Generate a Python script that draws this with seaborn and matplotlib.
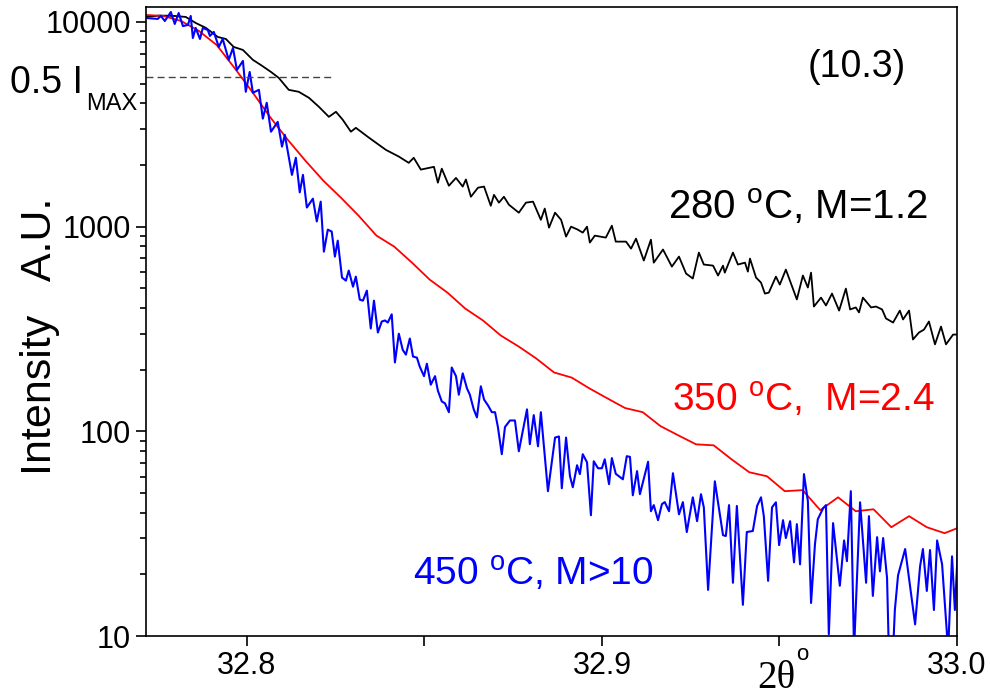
import numpy as np
import seaborn as sns
import matplotlib.pyplot as plt
from matplotlib.ticker import FixedLocator, LogLocator, FuncFormatter, NullFormatter

sns.set_theme(style="ticks")
plt.rcParams['font.family'] = ['Liberation Sans', 'DejaVu Sans']
plt.rcParams['mathtext.fontset'] = 'custom'
plt.rcParams['mathtext.rm'] = 'Liberation Sans'
plt.rcParams['mathtext.it'] = 'Liberation Sans:italic'

# 280 C sample (black)
black_x = [32.7716, 32.7755, 32.7797, 32.7828, 32.7856, 32.7885, 32.7918, 32.7941, 32.7963, 32.7989,
           32.8017, 32.8039, 32.8068, 32.8090, 32.8118, 32.8146, 32.8175, 32.8203, 32.8231, 32.8251,
           32.8270, 32.8293, 32.8307, 32.8344, 32.8392, 32.8428, 32.8456, 32.8470, 32.8490, 32.8527,
           32.8538, 32.8549, 32.8569, 32.8589, 32.8608, 32.8617, 32.8631, 32.8651, 32.8668, 32.8687,
           32.8696, 32.8710, 32.8724, 32.8738, 32.8766, 32.8786, 32.8806, 32.8828, 32.8839, 32.8851,
           32.8868, 32.8885, 32.8899, 32.8913, 32.8932, 32.8946, 32.8958, 32.8966, 32.8980, 32.9011,
           32.9028, 32.9039, 32.9068, 32.9082, 32.9096, 32.9118, 32.9138, 32.9146, 32.9172, 32.9197,
           32.9217, 32.9237, 32.9256, 32.9273, 32.9287, 32.9313, 32.9327, 32.9341, 32.9346, 32.9369,
           32.9383, 32.9403, 32.9411, 32.9417, 32.9434, 32.9448, 32.9459, 32.9470, 32.9490, 32.9501,
           32.9518, 32.9549, 32.9566, 32.9580, 32.9589, 32.9597, 32.9617, 32.9631, 32.9648, 32.9668,
           32.9687, 32.9699, 32.9715, 32.9724, 32.9735, 32.9758, 32.9772, 32.9789, 32.9800, 32.9820,
           32.9839, 32.9848, 32.9865, 32.9876, 32.9893, 32.9907, 32.9921, 32.9938, 32.9955, 32.9969,
           32.9989, 33.0000]
black_y = [10600, 10750, 10700, 10580, 9890, 9350, 8450, 8260, 7550, 7300,
           6530, 6170, 5700, 5330, 4660, 4560, 4260, 3850, 3440, 3640,
           3330, 2910, 3040, 2720, 2370, 2200, 2050, 2170, 1900, 1960,
           1640, 1920, 1585, 1730, 1570, 1700, 1400, 1550, 1570, 1265,
           1430, 1310, 1400, 1280, 1170, 1310, 1325, 1080, 1225, 989,
           1170, 1080, 894, 1000, 967, 935, 1000, 836, 904, 884,
           1011, 845, 845, 781, 874, 683, 864, 667, 773, 638,
           714, 590, 558, 747, 653, 645, 577, 645, 596, 747,
           653, 667, 603, 698, 564, 533, 471, 476, 570, 521,
           617, 441, 577, 504, 596, 407, 450, 412, 471, 389,
           498, 394, 403, 381, 450, 403, 407, 394, 356, 340,
           389, 352, 389, 281, 304, 314, 344, 266, 325, 266,
           297, 297]

# 350 C sample (red), step 0.005
red_start = 32.7715
red_step = 0.005
red_y = [10820, 10700, 10110, 9040, 7720, 5970, 4560, 3440, 2660, 2100,
         1680, 1385, 1130, 904, 799, 667, 551, 476, 398, 348,
         294, 260, 227, 194, 183, 162, 145, 130, 124, 106,
         95.6, 86.4, 85.4, 73.0, 63.1, 60.3, 51.0, 51.6, 41.2, 47.6,
         40.7, 41.6, 34.0, 38.5, 34.0, 31.8, 34.4]
red_x = red_start + red_step * np.arange(len(red_y))

# 450 C sample (blue)
blue_x = [32.7716, 32.7749, 32.7758, 32.7769, 32.7786, 32.7797, 32.7808, 32.7820, 32.7834, 32.7842,
          32.7848, 32.7856, 32.7868, 32.7876, 32.7890, 32.7896, 32.7907, 32.7921, 32.7932, 32.7949,
          32.7961, 32.7972, 32.7989, 32.7997, 32.8008, 32.8017, 32.8034, 32.8045, 32.8056, 32.8068,
          32.8087, 32.8099, 32.8107, 32.8127, 32.8138, 32.8149, 32.8158, 32.8169, 32.8186, 32.8197,
          32.8208, 32.8217, 32.8228, 32.8239, 32.8248, 32.8256, 32.8268, 32.8279, 32.8287, 32.8299,
          32.8307, 32.8318, 32.8327, 32.8338, 32.8349, 32.8358, 32.8369, 32.8380, 32.8389, 32.8397,
          32.8408, 32.8417, 32.8428, 32.8439, 32.8448, 32.8459, 32.8468, 32.8479, 32.8487, 32.8499,
          32.8507, 32.8518, 32.8530, 32.8538, 32.8549, 32.8558, 32.8569, 32.8577, 32.8589, 32.8597,
          32.8608, 32.8620, 32.8628, 32.8639, 32.8648, 32.8659, 32.8668, 32.8679, 32.8690, 32.8699,
          32.8707, 32.8718, 32.8727, 32.8741, 32.8755, 32.8766, 32.8789, 32.8797, 32.8808, 32.8820,
          32.8828, 32.8848, 32.8868, 32.8879, 32.8887, 32.8899, 32.8910, 32.8918, 32.8930, 32.8938,
          32.8946, 32.8958, 32.8969, 32.8977, 32.8989, 32.9000, 32.9008, 32.9020, 32.9028, 32.9039,
          32.9059, 32.9070, 32.9079, 32.9087, 32.9099, 32.9107, 32.9130, 32.9138, 32.9146, 32.9158,
          32.9169, 32.9177, 32.9189, 32.9200, 32.9217, 32.9228, 32.9239, 32.9256, 32.9268, 32.9279,
          32.9287, 32.9299, 32.9318, 32.9341, 32.9349, 32.9358, 32.9369, 32.9380, 32.9397, 32.9408,
          32.9425, 32.9437, 32.9448, 32.9456, 32.9468, 32.9479, 32.9490, 32.9499, 32.9510, 32.9518,
          32.9530, 32.9541, 32.9549, 32.9558, 32.9569, 32.9580, 32.9589, 32.9600, 32.9608, 32.9623,
          32.9631, 32.9639, 32.9651, 32.9670, 32.9682, 32.9690, 32.9701, 32.9710, 32.9727, 32.9744,
          32.9752, 32.9763, 32.9775, 32.9783, 32.9792, 32.9803, 32.9808, 32.9820, 32.9825, 32.9834,
          32.9854, 32.9882, 32.9896, 32.9904, 32.9915, 32.9924, 32.9935, 32.9944, 32.9958, 32.9975,
          32.9986, 32.9994, 33.0003]
blue_y = [10460, 10350, 10700, 10110, 11190, 9780, 11060, 9550, 9670, 10700,
          8350, 9350, 8260, 9350, 9140, 8550, 8940, 7550, 8260, 6530,
          7470, 5830, 6450, 4560, 5700, 4510, 4660, 3370, 4030, 2910,
          3250, 2460, 2810, 1790, 2170, 1470, 1790, 1240, 1370, 1060,
          1325, 755, 967, 946, 714, 854, 564, 545, 610, 509,
          570, 440, 435, 487, 318, 435, 304, 344, 348, 340,
          373, 217, 300, 250, 237, 284, 232, 229, 207, 186,
          214, 169, 186, 158, 140, 137, 124, 205, 186, 151,
          192, 162, 151, 128, 117, 166, 143, 134, 124, 124,
          105, 77.3, 105, 113, 113, 79.9, 128, 86.5, 120, 84.5,
          124, 51, 93.2, 94.4, 52.7, 93.2, 60.4, 53.3, 68.3, 61.8,
          77.3, 70.6, 38.9, 71.4, 66, 66, 73, 55.2, 74, 62,
          58.3, 75.6, 75, 48.7, 63.9, 49.3, 71, 40.7, 43.6, 36.8,
          44.1, 45.1, 40.7, 62.4, 39.3, 45.1, 32.2, 47.6, 36.4, 49.3,
          42.5, 16.8, 57, 31.1, 30.8, 43.6, 18.2, 43.2, 14.2, 32.2,
          32.6, 43.2, 47.6, 38.5, 18.6, 42.5, 45, 27.8, 36.8, 30.1,
          36.4, 22.9, 35.2, 22.4, 61.8, 45.6, 14.5, 28.1, 37.2, 42.1,
          43.6, 10.2, 35.6, 17.6, 29.3, 23.2, 51, 8.5, 45, 18.2,
          38.5, 15.7, 30.4, 20.7, 30.1, 19.2, 8.5, 8.5, 13.4, 19.8,
          26.6, 11.4, 21.9, 26.6, 16.6, 26.3, 13.4, 29.3, 22.4, 8.5,
          24.5, 13.4, 27.8]

half_max = 5390
half_max_x = [32.7716, 32.8242]

x_ticks = [32.8, 32.9, 33.0]
x_minor = [32.85, 32.95]
y_ticks = [10, 100, 1000, 10000]

fig = plt.figure(figsize=(9.9, 6.98), dpi=100)
ax = fig.add_axes([146 / 990, 1 - 636 / 698, 811 / 990, 629 / 698])

sns.lineplot(x=black_x, y=black_y, ax=ax, color='black', lw=1.3, sort=False, estimator=None)
sns.lineplot(x=red_x, y=red_y, ax=ax, color='#ff0000', lw=1.3, sort=False, estimator=None)
sns.lineplot(x=blue_x, y=blue_y, ax=ax, color='#0000ff', lw=1.5, sort=False, estimator=None)
ax.hlines(half_max, half_max_x[0], half_max_x[1], colors='#444444', linestyles=(0, (5, 3)), lw=1.0)

ax.set_yscale('log')
ax.set_xlim(32.7716, 33.0)
ax.set_ylim(10, 11835)
ax.set_xlabel('')
ax.set_ylabel('')

ax.xaxis.set_major_locator(FixedLocator(x_ticks))
ax.xaxis.set_minor_locator(FixedLocator(x_minor))
ax.xaxis.set_major_formatter(FuncFormatter(lambda v, p: f"{v:.1f}"))
ax.yaxis.set_major_locator(FixedLocator(y_ticks))
ax.yaxis.set_minor_locator(LogLocator(base=10, subs=np.arange(2, 10)))
ax.yaxis.set_major_formatter(FuncFormatter(lambda v, p: f"{v:g}"))
ax.yaxis.set_minor_formatter(NullFormatter())

ax.tick_params(which='major', direction='out', length=7, width=1.2, labelsize=22,
               colors='black', pad=4)
ax.tick_params(which='minor', direction='out', length=4, width=1.2, colors='black')
ax.tick_params(axis='x', which='minor', length=7)
for s in ax.spines.values():
    s.set_color('black')
    s.set_linewidth(1.2)
    s.set_visible(True)

# annotations
ax.text(0.816, 0.889, "(10.3)", transform=ax.transAxes, fontsize=27, color='black', va='baseline')
ax.text(0.644, 0.663, r"280 $^{\mathrm{o}}$C, M=1.2", transform=ax.transAxes,
        fontsize=29, color='black', va='baseline')
ax.text(0.649, 0.356, r"350 $^{\mathrm{o}}$C,  M=2.4", transform=ax.transAxes,
        fontsize=28, color='#ff0000', va='baseline')
ax.text(0.329, 0.0795, r"450 $^{\mathrm{o}}$C, M>10", transform=ax.transAxes,
        fontsize=28, color='#0000ff', va='baseline')

fig.text(10 / 990, 1 - 93 / 698, "0.5 I", fontsize=27, color='black', va='baseline')
fig.text(86 / 990, 1 - 110 / 698, "MAX", fontsize=17, color='black', va='baseline')
fig.text(40 / 990, 1 - 336 / 698, "Intensity   A.U.", rotation=90, fontsize=31,
         color='black', ha='center', va='center')
fig.text(757 / 990, 1 - 688 / 698, "2\u03b8", fontsize=28, color='black',
         va='baseline', family=['Liberation Serif', 'DejaVu Serif'])
fig.text(796 / 990, 1 - 660 / 698, "o", fontsize=16, color='black', va='baseline')

fig.savefig('out.png', dpi=100, facecolor='white')
